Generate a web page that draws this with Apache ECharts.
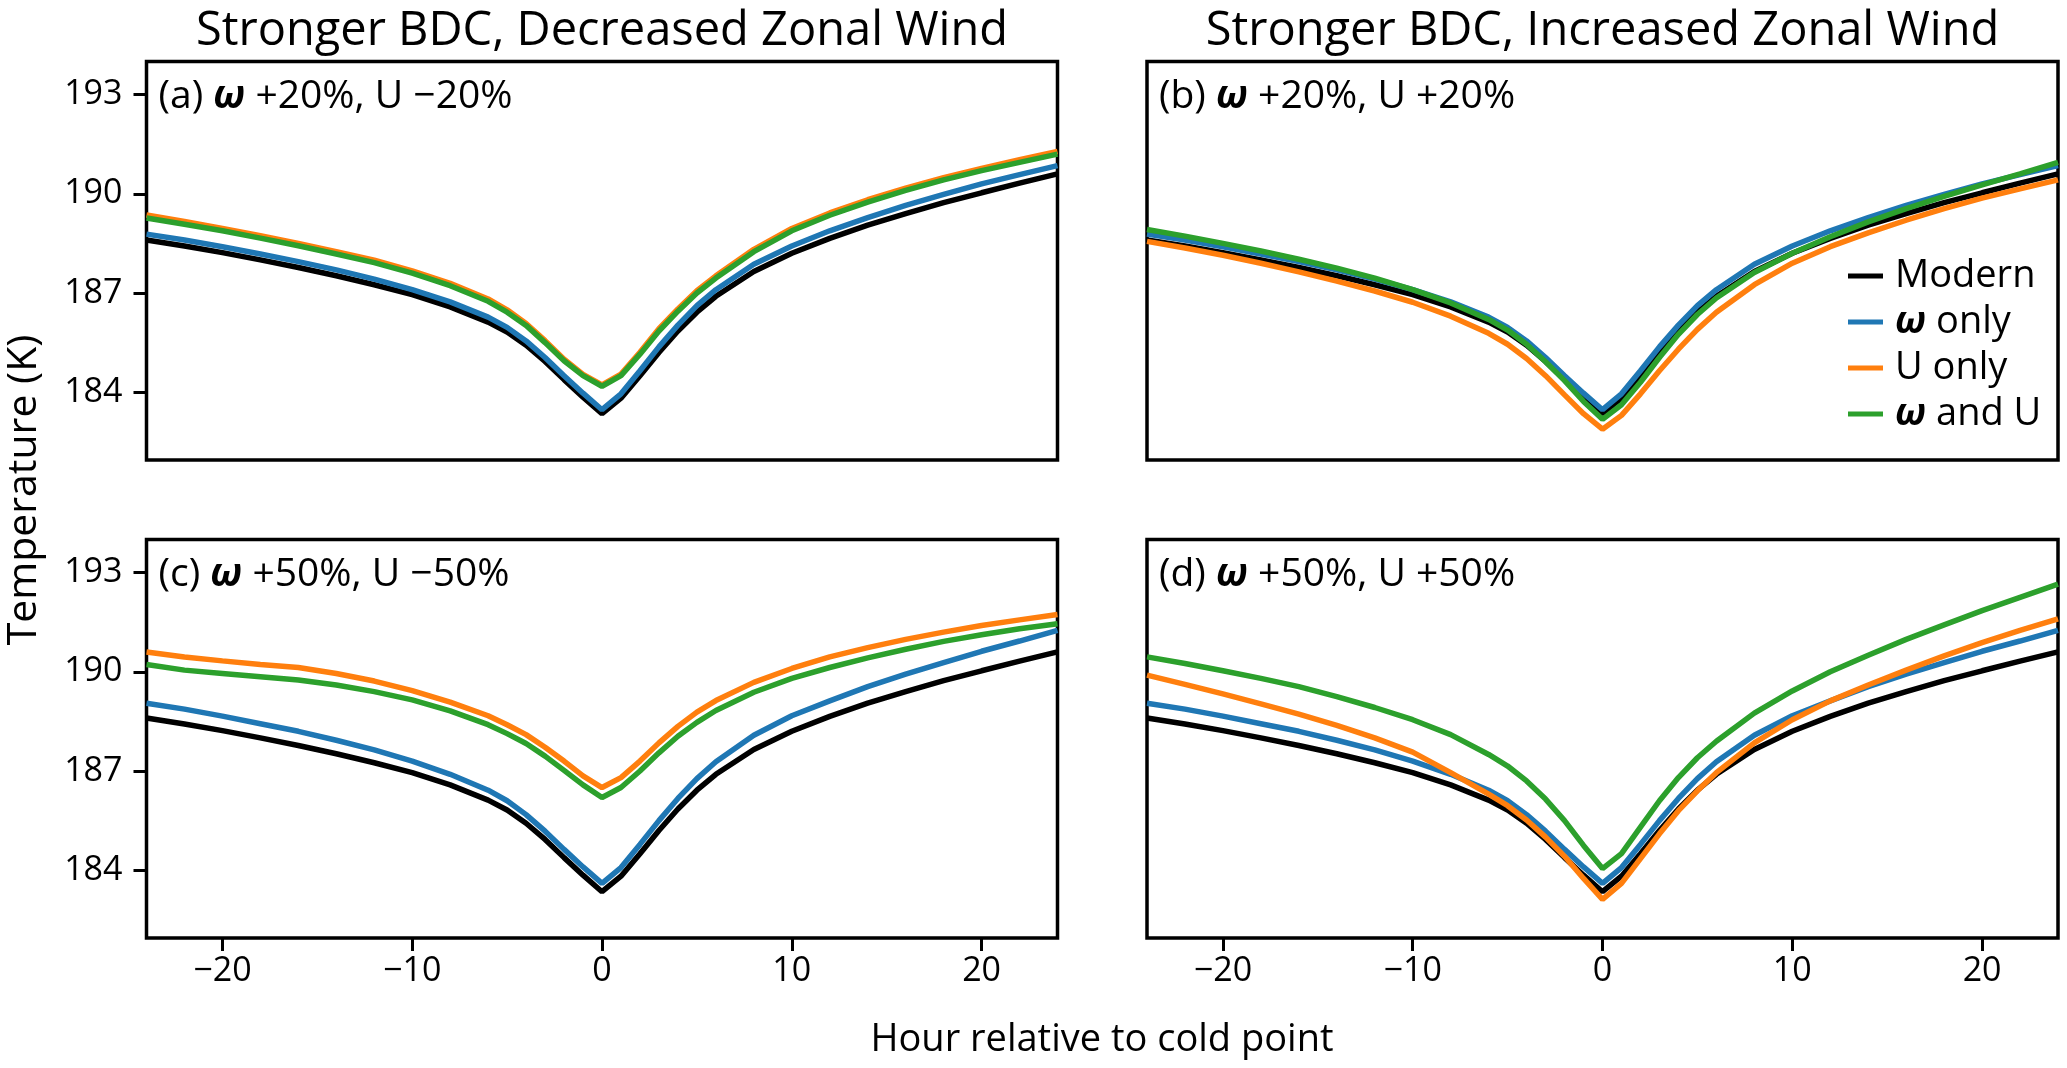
<!DOCTYPE html>
<html><head><meta charset="utf-8">
<script src="https://cdn.jsdelivr.net/npm/echarts@6/dist/echarts.min.js"></script>
<style>html,body{margin:0;padding:0;background:#fff}#c{width:2067px;height:1068px}</style>
</head><body><div id="c"></div>
<script>
const hours = [-24,-22,-20,-18,-16,-14,-12,-10,-8,-6,-5,-4,-3,-2,-1,0,1,2,3,4,5,6,8,10,12,14,16,18,20,22,24];
const modern   = [188.6,188.42,188.22,188.0,187.77,187.52,187.25,186.95,186.58,186.12,185.82,185.42,184.93,184.38,183.85,183.35,183.82,184.5,185.2,185.85,186.42,186.9,187.65,188.2,188.65,189.05,189.4,189.73,190.03,190.32,190.6];
const omega20  = [188.78,188.6,188.4,188.18,187.95,187.7,187.42,187.1,186.73,186.27,185.96,185.55,185.05,184.5,183.97,183.47,183.95,184.65,185.37,186.03,186.62,187.1,187.87,188.42,188.88,189.28,189.65,189.98,190.3,190.58,190.85];
const uMinus20 = [189.36,189.16,188.95,188.73,188.5,188.25,187.99,187.67,187.29,186.82,186.49,186.08,185.56,185.0,184.54,184.22,184.55,185.21,185.92,186.52,187.07,187.52,188.32,188.95,189.42,189.82,190.17,190.49,190.77,191.03,191.28];
const both20m  = [189.27,189.08,188.88,188.66,188.43,188.18,187.92,187.6,187.22,186.75,186.42,186.02,185.5,184.95,184.5,184.18,184.5,185.15,185.85,186.45,187.0,187.45,188.25,188.88,189.35,189.75,190.1,190.42,190.7,190.95,191.2];
const uPlus20  = [188.56,188.36,188.14,187.9,187.64,187.36,187.06,186.72,186.3,185.78,185.45,185.02,184.5,183.92,183.35,182.88,183.3,183.95,184.65,185.3,185.9,186.42,187.25,187.9,188.4,188.82,189.2,189.55,189.87,190.15,190.42];
const both20p  = [188.92,188.72,188.5,188.27,188.02,187.75,187.45,187.1,186.7,186.2,185.88,185.45,184.92,184.35,183.72,183.18,183.62,184.3,185.05,185.75,186.35,186.85,187.62,188.2,188.7,189.15,189.55,189.92,190.27,190.6,190.95];
const omega50  = [189.05,188.87,188.66,188.43,188.2,187.93,187.64,187.3,186.9,186.42,186.1,185.68,185.18,184.63,184.1,183.6,184.08,184.78,185.5,186.17,186.77,187.28,188.08,188.67,189.12,189.55,189.93,190.28,190.62,190.93,191.25];
const uMinus50 = [190.6,190.45,190.33,190.22,190.13,189.95,189.72,189.43,189.08,188.67,188.4,188.1,187.72,187.3,186.85,186.5,186.8,187.3,187.85,188.35,188.78,189.13,189.68,190.1,190.45,190.73,190.98,191.2,191.4,191.57,191.73];
const both50m  = [190.22,190.05,189.95,189.85,189.75,189.6,189.4,189.15,188.82,188.4,188.13,187.83,187.45,187.02,186.58,186.2,186.5,187.0,187.55,188.05,188.47,188.83,189.38,189.8,190.13,190.42,190.68,190.92,191.12,191.3,191.45];
const uPlus50  = [189.9,189.62,189.33,189.03,188.72,188.38,188.0,187.57,186.95,186.3,185.95,185.52,185.0,184.42,183.75,183.12,183.6,184.35,185.1,185.8,186.4,186.95,187.85,188.55,189.12,189.6,190.05,190.48,190.88,191.25,191.6];
const both50p  = [190.45,190.25,190.03,189.8,189.55,189.25,188.92,188.55,188.1,187.5,187.15,186.7,186.15,185.5,184.75,184.05,184.5,185.3,186.1,186.8,187.4,187.9,188.75,189.42,190.0,190.5,190.98,191.42,191.85,192.25,192.65];

const xTicks = [-20,-10,0,10,20];
const yTicks = [184,187,190,193];
const seriesNames = ['Modern','ω only','U only','ω and U'];
const colors = ['#000000','#1f77b4','#ff7f0e','#2ca02c'];
const panels = [
  {label:'(a) {w|ω} +20%, U \u221220%', sets:[modern, omega20, uMinus20, both20m]},
  {label:'(b) {w|ω} +20%, U +20%',      sets:[modern, omega20, uPlus20,  both20p]},
  {label:'(c) {w|ω} +50%, U \u221250%', sets:[modern, omega50, uMinus50, both50m]},
  {label:'(d) {w|ω} +50%, U +50%',      sets:[modern, omega50, uPlus50,  both50p]}
];
const colTitles = ['Stronger BDC, Decreased Zonal Wind','Stronger BDC, Increased Zonal Wind'];

const FONT = 'Open Sans';
const OMEGA = {fontFamily:'Open Sans', fontStyle:'italic', fontWeight:'bold', fill:'#000', color:'#000'};
const L = [146.5, 1147], T = [61.5, 539.5], W = 911, H = 398.5;
const grids = [], xAxes = [], yAxes = [], series = [], graphics = [];
const minus = v => v < 0 ? '\u2212' + (-v) : String(v);
for (let i = 0; i < 4; i++) {
  const col = i % 2, row = Math.floor(i / 2);
  grids.push({left:L[col], top:T[row], width:W, height:H, show:true, borderColor:'#000', borderWidth:3.5, backgroundColor:'transparent', containLabel:false});
  xAxes.push({type:'value', gridIndex:i, min:-24, max:24,
    axisLine:{show:false, onZero:false}, splitLine:{show:false},
    axisTick:{show:row===1, customValues:xTicks, length:13, lineStyle:{width:3, color:'#000'}},
    axisLabel:{show:row===1, customValues:xTicks, formatter:minus, fontFamily:FONT, fontSize:34, color:'#000', margin:16}});
  yAxes.push({type:'value', gridIndex:i, min:181.95, max:194.0,
    axisLine:{show:false, onZero:false}, splitLine:{show:false},
    axisTick:{show:col===0, customValues:yTicks, length:13, lineStyle:{width:3, color:'#000'}},
    axisLabel:{show:col===0, customValues:yTicks, fontFamily:FONT, fontSize:34, color:'#000', margin:24}});
  panels[i].sets.forEach((arr, k) => {
    series.push({type:'line', name:seriesNames[k], xAxisIndex:i, yAxisIndex:i,
      data: hours.map((h, j) => [h, arr[j]]), showSymbol:false, symbol:'none',
      lineStyle:{color:colors[k], width:5.5}, itemStyle:{color:colors[k]}, z:2+k, animation:false});
  });
  graphics.push({type:'text', left: L[col] + 12, top: T[row] + 16, z:10,
    style:{text:panels[i].label, fontFamily:FONT, fontSize:39, fill:'#000',
      rich:{w:Object.assign({fontSize:39}, OMEGA)}}});
}
colTitles.forEach((t, c) => graphics.push({type:'text', x: L[c] + W/2, y: 32, z:10,
  style:{text:t, fontFamily:FONT, fontSize:47, fill:'#000', align:'center', verticalAlign:'middle'}}));
graphics.push({type:'text', x: 1102, y: 1040, z:10,
  style:{text:'Hour relative to cold point', fontFamily:FONT, fontSize:38, fill:'#000', align:'center', verticalAlign:'middle'}});
graphics.push({type:'text', x: 24, y: 490, rotation: Math.PI/2, z:10,
  style:{text:'Temperature (K)', fontFamily:FONT, fontSize:41, fill:'#000', align:'center', verticalAlign:'middle'}});

const option = {
  animation:false,
  backgroundColor:'#fff',
  grid:grids, xAxis:xAxes, yAxis:yAxes, series:series, graphic:graphics,
  legend:{orient:'vertical', left:1843, top:250, itemWidth:35, itemHeight:5, itemGap:4, icon:'rect',
    data:seriesNames, selectedMode:false,
    formatter: n => n.replace('ω','{w|ω}'),
    textStyle:{fontFamily:FONT, fontSize:38, color:'#000', lineHeight:42, padding:[0,0,0,7],
      rich:{w:Object.assign({fontSize:38, lineHeight:42}, OMEGA)}}}
};
const chart = echarts.init(document.getElementById('c'));
chart.setOption(option);
</script></body></html>
